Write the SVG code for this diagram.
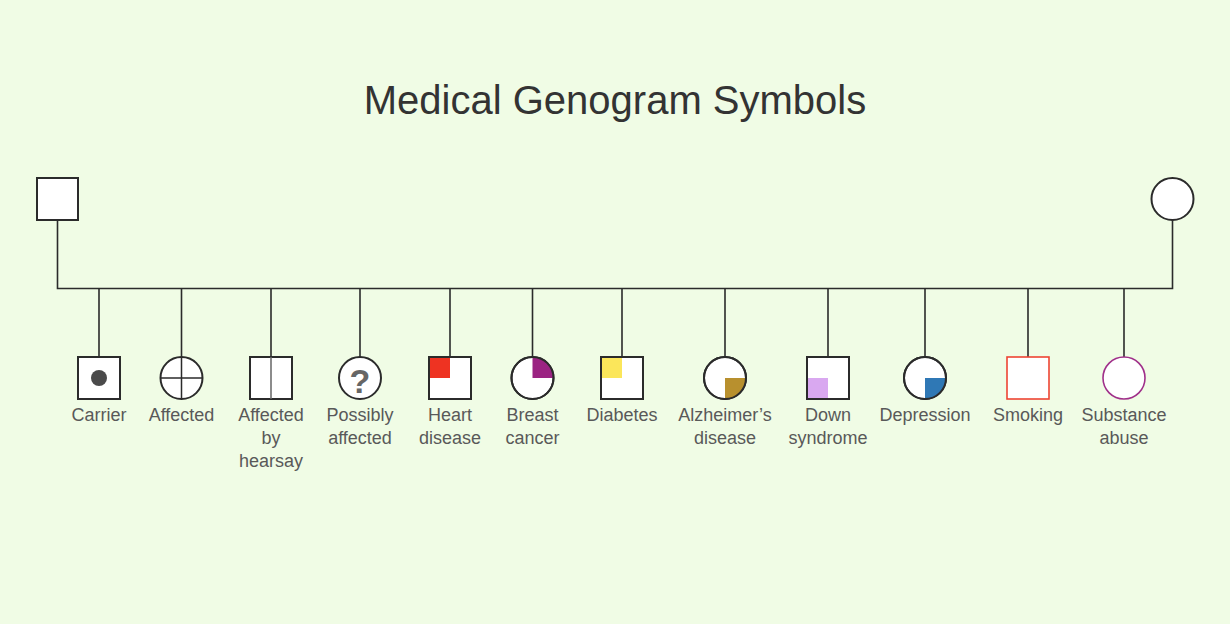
<svg xmlns="http://www.w3.org/2000/svg" width="1230" height="624" viewBox="0 0 1230 624">
<style>
.bg{fill:#F0FCE5}
.title{font-family:"Liberation Sans",Arial,sans-serif;font-size:40px;fill:#333333;text-anchor:middle}
.lbl{font-family:"Liberation Sans",Arial,sans-serif;font-size:18px;fill:#595959;text-anchor:middle}
.shape{fill:#FFFFFF;stroke:#2b2b2b;stroke-width:2}
.conn{fill:none;stroke:#2b2b2b;stroke-width:1.6}
</style>
<rect class="bg" x="0" y="0" width="1230" height="624"/>
<text class="title" x="615" y="114">Medical Genogram Symbols</text>

<g id="connectors">
<path class="conn" d="M57.5 220 V288.5 H1172.5 V220"/>
<path class="conn" d="M99 288.5 V357 M181.5 288.5 V357 M271 288.5 V357 M360 288.5 V357 M450 288.5 V357 M532.5 288.5 V357 M622 288.5 V357 M725 288.5 V357 M828 288.5 V357 M925 288.5 V357 M1028 288.5 V357 M1124 288.5 V357"/>
</g>

<g id="father"><rect class="shape" x="37" y="178" width="41" height="42"/></g>
<g id="mother"><circle class="shape" cx="1172.5" cy="199" r="21"/></g>

<g id="carrier">
<rect class="shape" x="78" y="357" width="42" height="42"/>
<circle cx="99" cy="378" r="8" fill="#4a4a4a"/>
<text class="lbl" x="99" y="421">Carrier</text>
</g>
<g id="affected">
<circle class="shape" cx="181.5" cy="378" r="21"/>
<path d="M160.5 378 H202.5 M181.5 357 V399" stroke="#2b2b2b" stroke-width="1.5"/>
<text class="lbl" x="181.5" y="421">Affected</text>
</g>
<g id="hearsay">
<rect class="shape" x="250" y="357" width="42" height="42"/>
<path d="M271 357 V399" stroke="#666666" stroke-width="1.5"/>
<text class="lbl" x="271" y="421">Affected</text>
<text class="lbl" x="271" y="444">by</text>
<text class="lbl" x="271" y="467">hearsay</text>
</g>
<g id="possibly">
<circle class="shape" cx="360" cy="378" r="21"/>
<text x="360" y="393" font-family="Liberation Sans,Arial,sans-serif" font-size="34" font-weight="bold" fill="#666666" text-anchor="middle">?</text>
<text class="lbl" x="360" y="421">Possibly</text>
<text class="lbl" x="360" y="444">affected</text>
</g>
<g id="heart">
<rect class="shape" x="429" y="357" width="42" height="42"/>
<rect x="430" y="358" width="20" height="20" fill="#EE3322"/>
<rect x="429" y="357" width="42" height="42" fill="none" stroke="#2b2b2b" stroke-width="2"/>
<text class="lbl" x="450" y="421">Heart</text>
<text class="lbl" x="450" y="444">disease</text>
</g>
<g id="breast">
<circle class="shape" cx="532.5" cy="378" r="21"/>
<path d="M532.5 378 V357 A21 21 0 0 1 553.5 378 Z" fill="#9B2382"/>
<circle cx="532.5" cy="378" r="21" fill="none" stroke="#2b2b2b" stroke-width="2"/>
<text class="lbl" x="532.5" y="421">Breast</text>
<text class="lbl" x="532.5" y="444">cancer</text>
</g>
<g id="diabetes">
<rect class="shape" x="601" y="357" width="42" height="42"/>
<rect x="602" y="358" width="20" height="20" fill="#FBE65A"/>
<rect x="601" y="357" width="42" height="42" fill="none" stroke="#2b2b2b" stroke-width="2"/>
<text class="lbl" x="622" y="421">Diabetes</text>
</g>
<g id="alzheimer">
<circle class="shape" cx="725" cy="378" r="21"/>
<path d="M725 378 H746 A21 21 0 0 1 725 399 Z" fill="#B8902E"/>
<circle cx="725" cy="378" r="21" fill="none" stroke="#2b2b2b" stroke-width="2"/>
<text class="lbl" x="725" y="421">Alzheimer’s</text>
<text class="lbl" x="725" y="444">disease</text>
</g>
<g id="down">
<rect class="shape" x="807" y="357" width="42" height="42"/>
<rect x="808" y="378" width="20" height="20" fill="#D9A8F0"/>
<rect x="807" y="357" width="42" height="42" fill="none" stroke="#2b2b2b" stroke-width="2"/>
<text class="lbl" x="828" y="421">Down</text>
<text class="lbl" x="828" y="444">syndrome</text>
</g>
<g id="depression">
<circle class="shape" cx="925" cy="378" r="21"/>
<path d="M925 378 H946 A21 21 0 0 1 925 399 Z" fill="#2F78B5"/>
<circle cx="925" cy="378" r="21" fill="none" stroke="#2b2b2b" stroke-width="2"/>
<text class="lbl" x="925" y="421">Depression</text>
</g>
<g id="smoking">
<rect x="1007" y="357" width="42" height="42" fill="#FFFFFF" stroke="#EE4433" stroke-width="1.6"/>
<text class="lbl" x="1028" y="421">Smoking</text>
</g>
<g id="substance">
<circle cx="1124" cy="378" r="21" fill="#FFFFFF" stroke="#A0308A" stroke-width="1.6"/>
<text class="lbl" x="1124" y="421">Substance</text>
<text class="lbl" x="1124" y="444">abuse</text>
</g>
</svg>
